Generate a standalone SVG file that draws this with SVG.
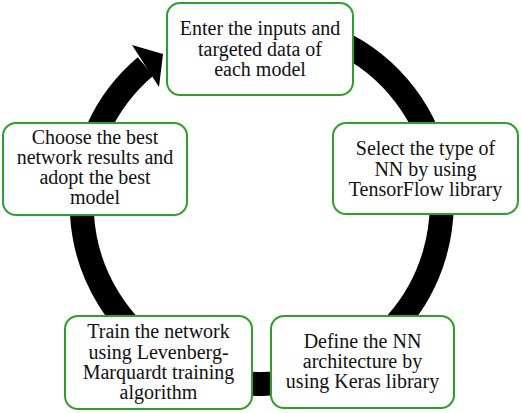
<svg xmlns="http://www.w3.org/2000/svg" width="521" height="413" viewBox="0 0 521 413">
<style>
.box{fill:#fff;stroke:#2f9e2a;stroke-width:2}
.t{font-family:"Liberation Serif","Times New Roman",serif;font-size:20px;fill:#111;text-anchor:middle}
</style>
<rect width="521" height="413" fill="#fff"/>
<g id="connectors">
<path d="M 260 24 A 180 180 0 1 1 145.5 66.5" fill="none" stroke="#000" stroke-width="24"/>
<polygon points="132,45 163,54 159,87" fill="#000"/>
</g>
<g id="node-enter">
<rect class="box" x="167" y="3" width="186" height="92" rx="13"/>
<text class="t" x="260" y="35">Enter the inputs and</text>
<text class="t" x="260" y="56">targeted data of</text>
<text class="t" x="260" y="76">each model</text>
</g>
<g id="node-select">
<rect class="box" x="333" y="123" width="185" height="91" rx="13"/>
<text class="t" x="425.5" y="155">Select the type of</text>
<text class="t" x="425.5" y="176">NN by using</text>
<text class="t" x="425.5" y="196">TensorFlow library</text>
</g>
<g id="node-define">
<rect class="box" x="271" y="316" width="183" height="92" rx="13"/>
<text class="t" x="362.5" y="348">Define the NN</text>
<text class="t" x="362.5" y="368">architecture by</text>
<text class="t" x="362.5" y="388">using Keras library</text>
</g>
<g id="node-train">
<rect class="box" x="65" y="316" width="187" height="93" rx="13"/>
<text class="t" x="158.5" y="338">Train the network</text>
<text class="t" x="158.5" y="359">using Levenberg-</text>
<text class="t" x="158.5" y="379">Marquardt training</text>
<text class="t" x="158.5" y="399">algorithm</text>
</g>
<g id="node-choose">
<rect class="box" x="3" y="123" width="184" height="92" rx="13"/>
<text class="t" x="95" y="144">Choose the best</text>
<text class="t" x="95" y="164">network results and</text>
<text class="t" x="95" y="184">adopt the best</text>
<text class="t" x="95" y="204">model</text>
</g>
</svg>
